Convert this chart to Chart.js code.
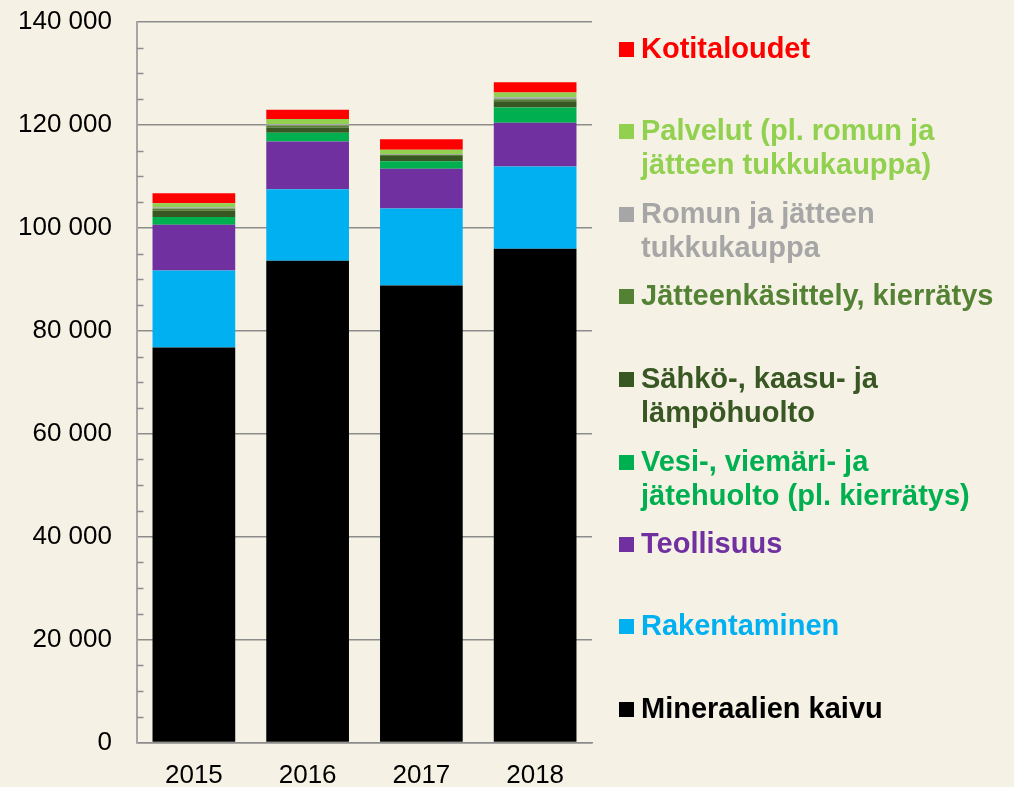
<!DOCTYPE html>
<html>
<head>
<meta charset="utf-8">
<script src="https://cdn.jsdelivr.net/npm/chart.js@4/dist/chart.umd.min.js"></script>
<style>
  body { margin: 0; background: #f5f2e5; }
  #wrap { width: 1014px; height: 787px; position: relative; }
</style>
</head>
<body>
<div id="wrap"><canvas id="chart"></canvas></div>
<script>
// --- Data ---
const years = ["2015", "2016", "2017", "2018"];

const mineraalien = [76750, 93600, 88800, 95950];
const rakentaminen = [14970, 13900, 14950, 15950];
const teollisuus = [8880, 9300, 7750, 8500];
const vesi = [1500, 1700, 1450, 3000];
const sahko = [1200, 1000, 1030, 1200];
const jatteenkasittely = [450, 400, 200, 400];
const romun = [270, 270, 150, 400];
const palvelut = [780, 970, 850, 900];
const kotitaloudet = [1940, 1800, 2050, 2000];

// legend text lines, bottom of stack first (same order as datasets)
const legendLines = [
  ["Mineraalien kaivu"],
  ["Rakentaminen"],
  ["Teollisuus"],
  ["Vesi-, viemäri- ja", "jätehuolto (pl. kierrätys)"],
  ["Sähkö-, kaasu- ja", "lämpöhuolto"],
  ["Jätteenkäsittely, kierrätys"],
  ["Romun ja jätteen", "tukkukauppa"],
  ["Palvelut (pl. romun ja", "jätteen tukkukauppa)"],
  ["Kotitaloudet"]
];

const colors = ["#000000", "#00b0f0", "#7030a0", "#00b050", "#385723",
  "#548235", "#a6a6a6", "#92d050", "#ff0000"];

const series = [mineraalien, rakentaminen, teollisuus, vesi, sahko,
  jatteenkasittely, romun, palvelut, kotitaloudet];

// first-line baseline of each legend entry (same order)
const legendBaseline = [718, 635, 553, 471, 388, 305, 223, 140, 58];

const FONT = "'Liberation Sans', Arial, sans-serif";

function fmt(v) {
  return String(v).replace(/\B(?=(\d{3})+(?!\d))/g, " ");
}

// --- Plugins ---
const extras = {
  id: "extras",
  beforeDraw(chart) {
    const c = chart.ctx;
    c.save();
    c.fillStyle = "#f5f2e5";
    c.fillRect(0, 0, chart.width, chart.height);
    c.restore();
  },
  afterDraw(chart) {
    const c = chart.ctx;
    const y = chart.scales.y;
    const left = chart.chartArea.left;
    c.save();
    // minor ticks every 5000, inside the axis
    c.strokeStyle = "#8c8c8c";
    c.lineWidth = 1.5;
    for (let v = 5000; v < 140000; v += 5000) {
      if (v % 20000 === 0) continue;
      const py = Math.round(y.getPixelForValue(v)) + 0.5;
      c.beginPath();
      c.moveTo(left, py);
      c.lineTo(left + 6.5, py);
      c.stroke();
    }
    // legend
    c.font = "bold 29px " + FONT;
    c.textBaseline = "alphabetic";
    chart.data.datasets.forEach((ds, i) => {
      const base = legendBaseline[i];
      c.fillStyle = ds.backgroundColor;
      c.fillRect(619, base - 16, 15, 15);
      legendLines[i].forEach((line, k) => {
        c.fillText(line, 641, base + k * 33.5);
      });
    });
    c.restore();
  }
};

// --- Chart ---
new Chart(document.getElementById("chart"), {
  type: "bar",
  data: {
    labels: years,
    datasets: series.map((d, i) => ({
      label: legendLines[i].join(" "),
      data: d,
      backgroundColor: colors[i],
      borderWidth: 0,
      barPercentage: 0.727,
      categoryPercentage: 1
    }))
  },
  options: {
    responsive: true,
    maintainAspectRatio: false,
    animation: false,
    layout: { padding: { top: 22, right: 422, left: 0, bottom: 0 } },
    plugins: {
      legend: { display: false },
      tooltip: { enabled: false }
    },
    scales: {
      x: {
        stacked: true,
        grid: { display: false },
        border: { display: true, color: "#8c8c8c", width: 1.5 },
        ticks: { color: "#000", font: { family: FONT, size: 26 }, padding: 10 },
        afterFit(scale) { scale.height = 44.5; }
      },
      y: {
        stacked: true,
        min: 0,
        max: 140000,
        grid: {
          drawTicks: true,
          tickLength: 24,
          tickColor: "transparent",
          lineWidth: 1.5,
          color: ctx => (ctx.tick && ctx.tick.value % 20000 === 0) ? "#8c8c8c" : "transparent"
        },
        border: { display: true, color: "#a6a6a6", width: 2 },
        ticks: {
          stepSize: 5000,
          autoSkip: false,
          padding: 1,
          color: "#000",
          font: { family: FONT, size: 26 },
          callback: v => v % 20000 === 0 ? fmt(v) : ""
        },
        afterFit(scale) { scale.width = 137; }
      }
    }
  },
  plugins: [extras]
});
</script>
</body>
</html>
